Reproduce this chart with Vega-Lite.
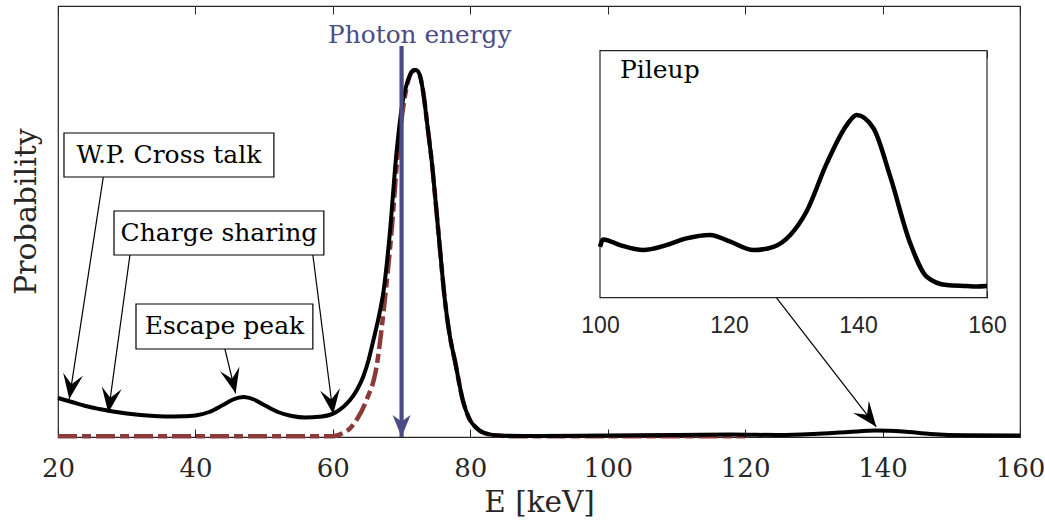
{
  "$schema": "https://vega.github.io/schema/vega-lite/v6.json",
  "width": 962,
  "height": 431,
  "autosize": {"type": "none"},
  "padding": {"left": 58, "top": 6, "right": 25, "bottom": 84},
  "background": "white",
  "config": {
    "view": {"stroke": "#262626", "strokeWidth": 1.2},
    "axis": {"titleFontWeight": "normal", "grid": false, "labelFlush": false, "labelOverlap": false}
  },
  "datasets": {
    "main": [
      {"E": 20, "p": 9.05}, {"E": 22, "p": 8.12}, {"E": 24, "p": 7.19}, {"E": 26, "p": 6.5}, {"E": 28, "p": 5.92},
      {"E": 30, "p": 5.45}, {"E": 32, "p": 5.1}, {"E": 34, "p": 4.87}, {"E": 36, "p": 4.76}, {"E": 38, "p": 4.8},
      {"E": 40, "p": 4.99}, {"E": 42, "p": 5.8}, {"E": 44, "p": 7.42}, {"E": 45.5, "p": 8.7}, {"E": 47, "p": 9.28},
      {"E": 48.5, "p": 8.7}, {"E": 50, "p": 7.42}, {"E": 52, "p": 5.8}, {"E": 54, "p": 4.87}, {"E": 56, "p": 4.52},
      {"E": 58, "p": 4.69}, {"E": 59.5, "p": 5.1}, {"E": 60.5, "p": 5.8}, {"E": 61.5, "p": 6.96}, {"E": 62.5, "p": 8.58},
      {"E": 63.5, "p": 10.9}, {"E": 64.4, "p": 13.92}, {"E": 65.2, "p": 17.87}, {"E": 65.8, "p": 21.81}, {"E": 66.8, "p": 28.77},
      {"E": 67.4, "p": 34.11}, {"E": 68.2, "p": 45.71}, {"E": 69.3, "p": 66.59}, {"E": 70.2, "p": 78.19}, {"E": 70.8, "p": 82.13},
      {"E": 71.6, "p": 84.92}, {"E": 72.1, "p": 85.15}, {"E": 72.65, "p": 83.99}, {"E": 73.1, "p": 80.51}, {"E": 73.8, "p": 71.69},
      {"E": 74.4, "p": 63.81}, {"E": 75.0, "p": 53.83}, {"E": 75.6, "p": 43.39}, {"E": 76.3, "p": 31.79}, {"E": 77.0, "p": 23.67},
      {"E": 77.8, "p": 17.4}, {"E": 78.9, "p": 8.58}, {"E": 79.8, "p": 4.41}, {"E": 80.9, "p": 2.09}, {"E": 82, "p": 0.93},
      {"E": 84, "p": 0.35}, {"E": 90, "p": 0.23}, {"E": 100, "p": 0.35}, {"E": 110, "p": 0.46}, {"E": 118, "p": 0.58},
      {"E": 125, "p": 0.46}, {"E": 130, "p": 0.7}, {"E": 135, "p": 1.16}, {"E": 139, "p": 1.51}, {"E": 143, "p": 1.28},
      {"E": 147, "p": 0.7}, {"E": 152, "p": 0.39}, {"E": 160, "p": 0.35}
    ],
    "ideal": [
      {"E": 20, "p": 0.16}, {"E": 40, "p": 0.16}, {"E": 60, "p": 0.16}, {"E": 61.5, "p": 0.93}, {"E": 62.5, "p": 2.0},
      {"E": 63.45, "p": 3.94}, {"E": 64.9, "p": 8.58}, {"E": 66.35, "p": 16.24}, {"E": 67.56, "p": 31.79}, {"E": 68.5, "p": 46.87},
      {"E": 69.5, "p": 66.59}, {"E": 70.4, "p": 78.19}, {"E": 71.0, "p": 82.83}, {"E": 71.8, "p": 85.15}, {"E": 72.6, "p": 83.99},
      {"E": 73.1, "p": 80.51}, {"E": 73.8, "p": 71.69}, {"E": 74.4, "p": 63.81}, {"E": 75.0, "p": 53.83}, {"E": 75.6, "p": 43.39},
      {"E": 76.3, "p": 31.79}, {"E": 77.0, "p": 23.67}, {"E": 77.8, "p": 17.4}, {"E": 78.9, "p": 8.58}, {"E": 79.8, "p": 4.41},
      {"E": 80.9, "p": 2.09}, {"E": 82, "p": 0.93}, {"E": 84, "p": 0.35}, {"E": 86, "p": 0.16}, {"E": 120, "p": 0.16}
    ],
    "pileup": [
      {"E": 100.0, "p": 0.206}, {"E": 100.5, "p": 0.236}, {"E": 103.1, "p": 0.213}, {"E": 106.7, "p": 0.193}, {"E": 110.3, "p": 0.213},
      {"E": 113.4, "p": 0.24}, {"E": 117.05, "p": 0.254}, {"E": 120.2, "p": 0.227}, {"E": 123.8, "p": 0.193}, {"E": 126.9, "p": 0.206},
      {"E": 129.5, "p": 0.254}, {"E": 132.0, "p": 0.348}, {"E": 135.15, "p": 0.544}, {"E": 138.25, "p": 0.699}, {"E": 139.8, "p": 0.74},
      {"E": 142.4, "p": 0.686}, {"E": 145.0, "p": 0.49}, {"E": 148.1, "p": 0.22}, {"E": 150.65, "p": 0.085}, {"E": 153.75, "p": 0.051},
      {"E": 156.85, "p": 0.047}, {"E": 158.4, "p": 0.045}, {"E": 160.0, "p": 0.047}
    ],
    "arrows": [
      {"id": "wp", "x": 26.59, "y": 60.32, "x2": 21.64, "y2": 8.8},
      {"id": "csl", "x": 30.47, "y": 42.23, "x2": 27.32, "y2": 5.64},
      {"id": "csr", "x": 57.09, "y": 42.23, "x2": 60.05, "y2": 5.27},
      {"id": "esc", "x": 44.29, "y": 20.42, "x2": 45.85, "y2": 10.14},
      {"id": "pile", "x": 124.54, "y": 32.32, "x2": 139.08, "y2": 2.39}
    ],
    "boxes": [
      {"label": "W.P. Cross talk", "tx": 36.15, "ty": 65.43, "x1": 20.87, "x2": 51.42, "y1": 70.53, "y2": 60.32},
      {"label": "Charge sharing", "tx": 43.42, "ty": 47.33, "x1": 28.15, "x2": 58.69, "y1": 52.44, "y2": 42.23},
      {"label": "Escape peak", "tx": 44.22, "ty": 25.64, "x1": 31.35, "x2": 57.09, "y1": 30.86, "y2": 20.42}
    ],
    "photon": [
      {"label": "Photon energy", "E": 70, "top": 90.72, "bottom": 0, "tx": 72.65, "ty": 91.4}
    ],
    "ylabel": [
      {"label": "Probability", "E": 16.8, "p": 52.3}
    ],
    "inset": [
      {"label": "Pileup", "E1": 100, "E2": 160, "p1": 0, "p2": 1, "tx": 103.1, "ty": 0.889}
    ]
  },
  "layer": [
    {
      "layer": [
        {
          "data": {"name": "ideal"},
          "mark": {"type": "line", "color": "#8B3A3A", "strokeWidth": 4.5, "strokeDash": [19, 5, 9, 5], "interpolate": "monotone"},
          "encoding": {
            "x": {"field": "E", "type": "quantitative",
              "scale": {"domain": [20, 160], "nice": false, "zero": false},
              "axis": {"orient": "bottom", "values": [20, 40, 60, 80, 100, 120, 140, 160], "tickSize": -8, "tickColor": "#262626", "tickWidth": 1,
                "domain": false, "labelFont": "DejaVu Serif", "labelFontSize": 26, "labelColor": "#262626", "labelPadding": 26,
                "title": "E [keV]", "titleFont": "DejaVu Serif", "titleFontSize": 29.5, "titleColor": "#262626", "titlePadding": 7}},
            "y": {"field": "p", "type": "quantitative",
              "scale": {"domain": [0, 100], "nice": false, "zero": false},
              "axis": null}
          }
        },
        {
          "data": {"name": "main"},
          "mark": {"type": "line", "color": "black", "strokeWidth": 4, "interpolate": "monotone"},
          "encoding": {
            "x": {"field": "E", "type": "quantitative",
              "axis": {"orient": "top", "values": [20, 40, 60, 80, 100, 120, 140, 160], "tickSize": -8, "tickColor": "#262626", "tickWidth": 1,
                "domain": false, "labels": false, "title": null}},
            "y": {"field": "p", "type": "quantitative", "axis": null}
          }
        },
        {
          "data": {"name": "ylabel"},
          "mark": {"type": "text", "font": "DejaVu Serif", "fontSize": 30, "color": "#262626", "angle": 270, "align": "center", "baseline": "alphabetic"},
          "encoding": {
            "x": {"field": "E", "type": "quantitative", "axis": null},
            "y": {"field": "p", "type": "quantitative", "axis": null},
            "text": {"field": "label"}
          }
        },
        {
          "data": {"name": "photon"},
          "mark": {"type": "rule", "color": "#4B4C86", "strokeWidth": 4.2},
          "encoding": {
            "x": {"field": "E", "type": "quantitative", "axis": null},
            "y": {"field": "top", "type": "quantitative", "axis": null},
            "y2": {"field": "bottom"}
          }
        },
        {
          "data": {"name": "photon"},
          "mark": {"type": "point", "shape": "M0,0L-0.41,-1L0,-0.7L0.41,-1Z", "size": 1936, "filled": true, "opacity": 1, "color": "#4B4C86", "strokeWidth": 0},
          "encoding": {
            "x": {"field": "E", "type": "quantitative", "axis": null},
            "y": {"field": "bottom", "type": "quantitative", "axis": null}
          }
        },
        {
          "data": {"name": "photon"},
          "mark": {"type": "text", "font": "DejaVu Serif", "fontSize": 24.8, "color": "#4B4C86", "align": "center", "baseline": "alphabetic"},
          "encoding": {
            "x": {"field": "tx", "type": "quantitative", "axis": null},
            "y": {"field": "ty", "type": "quantitative", "axis": null},
            "text": {"field": "label"}
          }
        },
        {
          "data": {"name": "arrows"},
          "mark": {"type": "rule", "color": "black", "strokeWidth": 1.2},
          "encoding": {
            "x": {"field": "x", "type": "quantitative", "axis": null},
            "y": {"field": "y", "type": "quantitative", "axis": null},
            "x2": {"field": "x2"},
            "y2": {"field": "y2"}
          }
        },
        {
          "data": {"name": "arrows"},
          "transform": [{"filter": "datum.id == 'wp'"}],
          "mark": {"type": "point", "shape": "M0,0L-0.4,-1L0,-0.6L0.4,-1Z", "size": 2500, "angle": 8.7, "filled": true, "opacity": 1, "color": "black", "strokeWidth": 0},
          "encoding": {"x": {"field": "x2", "type": "quantitative", "axis": null}, "y": {"field": "y2", "type": "quantitative", "axis": null}}
        },
        {
          "data": {"name": "arrows"},
          "transform": [{"filter": "datum.id == 'csl'"}],
          "mark": {"type": "point", "shape": "M0,0L-0.4,-1L0,-0.6L0.4,-1Z", "size": 2500, "angle": 7.8, "filled": true, "opacity": 1, "color": "black", "strokeWidth": 0},
          "encoding": {"x": {"field": "x2", "type": "quantitative", "axis": null}, "y": {"field": "y2", "type": "quantitative", "axis": null}}
        },
        {
          "data": {"name": "arrows"},
          "transform": [{"filter": "datum.id == 'csr'"}],
          "mark": {"type": "point", "shape": "M0,0L-0.4,-1L0,-0.6L0.4,-1Z", "size": 2500, "angle": -7.3, "filled": true, "opacity": 1, "color": "black", "strokeWidth": 0},
          "encoding": {"x": {"field": "x2", "type": "quantitative", "axis": null}, "y": {"field": "y2", "type": "quantitative", "axis": null}}
        },
        {
          "data": {"name": "arrows"},
          "transform": [{"filter": "datum.id == 'esc'"}],
          "mark": {"type": "point", "shape": "M0,0L-0.4,-1L0,-0.6L0.4,-1Z", "size": 2500, "angle": -13.6, "filled": true, "opacity": 1, "color": "black", "strokeWidth": 0},
          "encoding": {"x": {"field": "x2", "type": "quantitative", "axis": null}, "y": {"field": "y2", "type": "quantitative", "axis": null}}
        },
        {
          "data": {"name": "arrows"},
          "transform": [{"filter": "datum.id == 'pile'"}],
          "mark": {"type": "point", "shape": "M0,0L-0.4,-1L0,-0.6L0.4,-1Z", "size": 2500, "angle": -37.8, "filled": true, "opacity": 1, "color": "black", "strokeWidth": 0},
          "encoding": {"x": {"field": "x2", "type": "quantitative", "axis": null}, "y": {"field": "y2", "type": "quantitative", "axis": null}}
        },
        {
          "data": {"name": "boxes"},
          "mark": {"type": "rect", "fill": "white", "stroke": "black", "strokeWidth": 1.2},
          "encoding": {
            "x": {"field": "x1", "type": "quantitative", "axis": null},
            "x2": {"field": "x2"},
            "y": {"field": "y1", "type": "quantitative", "axis": null},
            "y2": {"field": "y2"}
          }
        },
        {
          "data": {"name": "boxes"},
          "mark": {"type": "text", "font": "DejaVu Serif", "fontSize": 25, "color": "black", "align": "center", "baseline": "middle"},
          "encoding": {
            "x": {"field": "tx", "type": "quantitative", "axis": null},
            "y": {"field": "ty", "type": "quantitative", "axis": null},
            "text": {"field": "label"}
          }
        }
      ],
      "resolve": {"axis": {"x": "independent"}}
    },
    {
      "layer": [
        {
          "data": {"name": "inset"},
          "mark": {"type": "rect", "fill": "white", "stroke": "#262626", "strokeWidth": 1.2},
          "encoding": {
            "x": {"field": "E1", "type": "quantitative",
              "scale": {"domain": [100, 160], "range": [542, 929], "nice": false, "zero": false},
              "axis": {"orient": "bottom", "offset": -139.3, "values": [100, 120, 140, 160], "tickSize": -7, "tickColor": "#262626", "tickWidth": 1,
                "domain": false, "labelFont": "Liberation Sans", "labelFontSize": 23, "labelColor": "#262626", "labelPadding": 24, "title": null}},
            "x2": {"field": "E2"},
            "y": {"field": "p1", "type": "quantitative",
              "scale": {"domain": [0, 1], "range": [291.7, 44.7], "nice": false, "zero": false},
              "axis": null},
            "y2": {"field": "p2"}
          }
        },
        {
          "data": {"name": "pileup"},
          "mark": {"type": "line", "color": "black", "strokeWidth": 4.5, "interpolate": "monotone"},
          "encoding": {
            "x": {"field": "E", "type": "quantitative",
              "axis": {"orient": "top", "offset": -44.7, "values": [100, 120, 140, 160], "tickSize": -7, "tickColor": "#262626", "tickWidth": 1,
                "domain": false, "labels": false, "title": null}},
            "y": {"field": "p", "type": "quantitative", "axis": null}
          }
        },
        {
          "data": {"name": "inset"},
          "mark": {"type": "text", "font": "DejaVu Serif", "fontSize": 25, "color": "black", "align": "left", "baseline": "alphabetic"},
          "encoding": {
            "x": {"field": "tx", "type": "quantitative", "axis": null},
            "y": {"field": "ty", "type": "quantitative", "axis": null},
            "text": {"field": "label"}
          }
        }
      ],
      "resolve": {"axis": {"x": "independent"}}
    }
  ],
  "resolve": {"scale": {"x": "independent", "y": "independent"}}
}
